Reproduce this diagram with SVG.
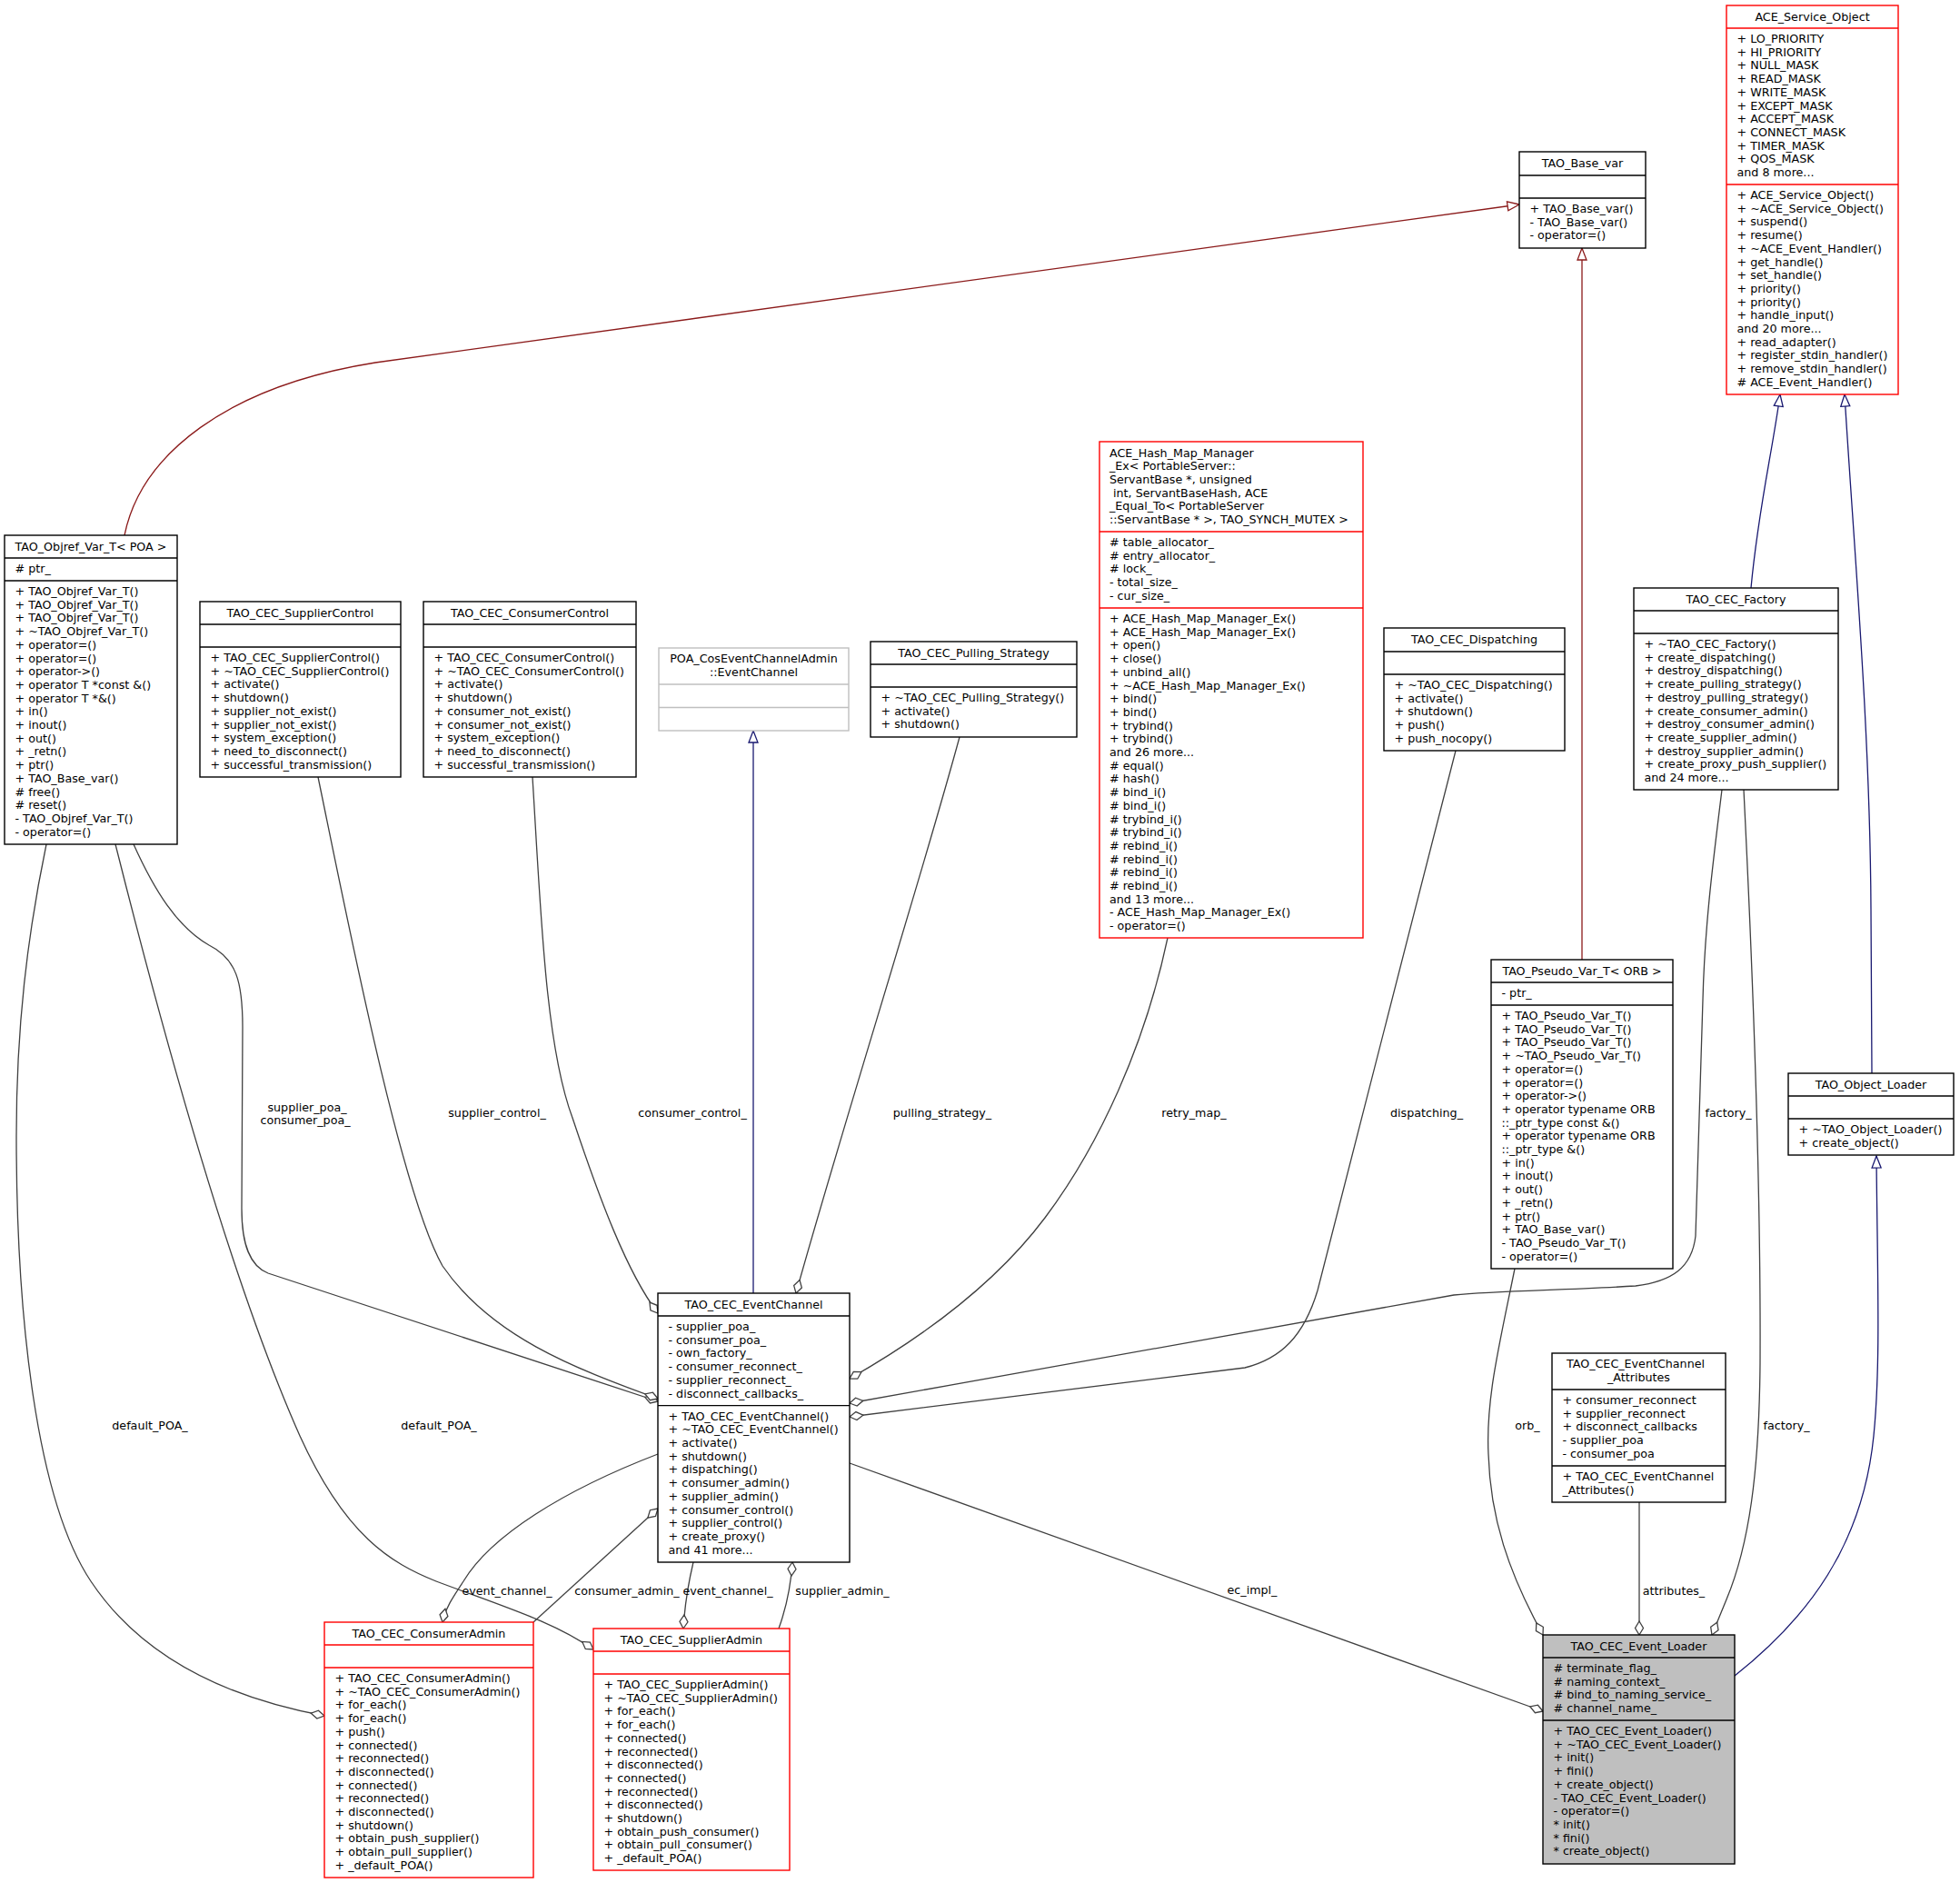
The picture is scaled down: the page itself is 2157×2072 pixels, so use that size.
<svg xmlns="http://www.w3.org/2000/svg" width="2157" height="2072" viewBox="0 0 2157 2072">
<style>
text{font-family:"DejaVu Sans","Liberation Sans",sans-serif;font-size:12.7px;fill:#000}
.c{text-anchor:middle}
.bx{fill:#fff;stroke:#000;stroke-width:1.4}
.rd{fill:#fff;stroke:#ff0000;stroke-width:1.4}
.gy{fill:#fff;stroke:#bfbfbf;stroke-width:1.4}
.gf{fill:#bfbfbf;stroke:#000;stroke-width:1.4}
.sp{stroke:#000;stroke-width:1.4}
.spr{stroke:#ff0000;stroke-width:1.4}
.spg{stroke:#bfbfbf;stroke-width:1.4}
.e{fill:none;stroke:#404040;stroke-width:1.3}
.er{fill:none;stroke:#8b1a1a;stroke-width:1.3}
.eb{fill:none;stroke:#191970;stroke-width:1.3}
</style>
<defs>
<marker id="dia" markerUnits="userSpaceOnUse" viewBox="-16 -6 18 12" refX="0" refY="0" markerWidth="18" markerHeight="12" orient="auto">
<path d="M0,0 L-7.5,-4.5 L-15,0 L-7.5,4.5 Z" fill="#fff" stroke="#404040" stroke-width="1.3"/>
</marker>
<marker id="tr" markerUnits="userSpaceOnUse" viewBox="-15 -7 17 14" refX="0" refY="0" markerWidth="17" markerHeight="14" orient="auto">
<path d="M0,0 L-13,-5 L-13,5 Z" fill="#fff" stroke="#8b1a1a" stroke-width="1.3"/>
</marker>
<marker id="tb" markerUnits="userSpaceOnUse" viewBox="-15 -7 17 14" refX="0" refY="0" markerWidth="17" markerHeight="14" orient="auto">
<path d="M0,0 L-13,-5 L-13,5 Z" fill="#fff" stroke="#191970" stroke-width="1.3"/>
</marker>
</defs>
<rect x="0" y="0" width="2157" height="2072" fill="#fff"/>

<g id="connectors">
<path class="er" d="M137,589 C155,500 250,425 413,399 L1672,225" marker-end="url(#tr)"/>
<path class="er" d="M1741,1056 L1741,273" marker-end="url(#tr)"/>
<path class="eb" d="M1927,647 C1935,560 1950,500 1959,434" marker-end="url(#tb)"/>
<path class="eb" d="M2060,1181 L2059,1000 C2058,800 2040,600 2030,434" marker-end="url(#tb)"/>
<path class="eb" d="M1909,1844 C1990,1780 2050,1700 2062,1580 C2070,1500 2066,1400 2065,1272" marker-end="url(#tb)"/>
<path class="eb" d="M829,1423 L829,804" marker-end="url(#tb)"/>

<path class="e" d="M147,929 C170,980 195,1020 230,1040 C260,1055 267,1080 267,1130 L266,1330 C266,1370 275,1393 295,1401 L724,1542" marker-end="url(#dia)"/>
<path class="e" d="M350,855 C380,1000 440,1310 487,1393 C540,1470 630,1505 724,1539" marker-end="url(#dia)"/>
<path class="e" d="M586,855 C595,1000 600,1150 630,1230 C660,1320 690,1400 724,1445" marker-end="url(#dia)"/>
<path class="e" d="M1056,811 C1010,980 930,1230 876,1423" marker-end="url(#dia)"/>
<path class="e" d="M1285,1032 C1260,1150 1210,1260 1150,1340 C1090,1420 1000,1480 935,1517" marker-end="url(#dia)"/>
<path class="e" d="M1602,826 L1450,1420 C1435,1470 1410,1495 1370,1505 L935,1559" marker-end="url(#dia)"/>
<path class="e" d="M1895,869 C1885,950 1876,1020 1874,1100 L1866,1360 C1862,1395 1840,1410 1800,1415 C1720,1420 1650,1420 1600,1425 L935,1544" marker-end="url(#dia)"/>
<path class="e" d="M1919,869 C1928,1050 1938,1300 1937,1500 C1936,1620 1925,1700 1900,1760 L1884,1799" marker-end="url(#dia)"/>
<path class="e" d="M1667,1396 C1650,1480 1635,1540 1638,1600 C1640,1670 1660,1730 1698,1799" marker-end="url(#dia)"/>
<path class="e" d="M1804,1653 L1804,1799" marker-end="url(#dia)"/>
<path class="e" d="M935,1610 L1698,1883" marker-end="url(#dia)"/>
<path class="e" d="M51,929 C30,1030 18,1130 18,1250 C18,1450 40,1650 100,1740 C160,1830 260,1870 357,1888" marker-end="url(#dia)"/>
<path class="e" d="M127,929 C170,1100 250,1400 330,1580 C380,1690 430,1720 480,1740 C560,1770 610,1785 653,1815" marker-end="url(#dia)"/>
<path class="e" d="M724,1600 C620,1640 540,1690 510,1740 C498,1758 490,1770 487,1785" marker-end="url(#dia)"/>
<path class="e" d="M587,1785 L724,1660" marker-end="url(#dia)"/>
<path class="e" d="M763,1719 C758,1740 754,1760 752,1792" marker-end="url(#dia)"/>
<path class="e" d="M857,1792 C865,1770 870,1750 872,1719" marker-end="url(#dia)"/>

<text class="c" x="338" y="1223">supplier_poa_</text>
<text class="c" x="336" y="1237">consumer_poa_</text>
<text class="c" x="547" y="1229">supplier_control_</text>
<text class="c" x="762" y="1229">consumer_control_</text>
<text class="c" x="1037" y="1229">pulling_strategy_</text>
<text class="c" x="1314" y="1229">retry_map_</text>
<text class="c" x="1570" y="1229">dispatching_</text>
<text class="c" x="1902" y="1229">factory_</text>
<text class="c" x="1681" y="1573">orb_</text>
<text class="c" x="1966" y="1573">factory_</text>
<text class="c" x="165" y="1573">default_POA_</text>
<text class="c" x="483" y="1573">default_POA_</text>
<text class="c" x="1378" y="1754">ec_impl_</text>
<text class="c" x="1842" y="1755">attributes_</text>
<text class="c" x="558" y="1755">event_channel_</text>
<text class="c" x="690" y="1755">consumer_admin_</text>
<text class="c" x="801" y="1755">event_channel_</text>
<text class="c" x="927" y="1755">supplier_admin_</text>
</g>

<g id="ACE_Service_Object">
<rect class="rd" x="1900" y="6" width="189" height="428"/>
<line class="spr" x1="1900" y1="31" x2="2089" y2="31"/>
<line class="spr" x1="1900" y1="203" x2="2089" y2="203"/>
<text class="c" x="1994.5" y="23">ACE_Service_Object</text>
<text y="47"><tspan x="1911.5">+ LO_PRIORITY</tspan><tspan x="1911.5" dy="14.7">+ HI_PRIORITY</tspan><tspan x="1911.5" dy="14.7">+ NULL_MASK</tspan><tspan x="1911.5" dy="14.7">+ READ_MASK</tspan><tspan x="1911.5" dy="14.7">+ WRITE_MASK</tspan><tspan x="1911.5" dy="14.7">+ EXCEPT_MASK</tspan><tspan x="1911.5" dy="14.7">+ ACCEPT_MASK</tspan><tspan x="1911.5" dy="14.7">+ CONNECT_MASK</tspan><tspan x="1911.5" dy="14.7">+ TIMER_MASK</tspan><tspan x="1911.5" dy="14.7">+ QOS_MASK</tspan><tspan x="1911.5" dy="14.7">and 8 more...</tspan></text>
<text y="219"><tspan x="1911.5">+ ACE_Service_Object()</tspan><tspan x="1911.5" dy="14.7">+ ~ACE_Service_Object()</tspan><tspan x="1911.5" dy="14.7">+ suspend()</tspan><tspan x="1911.5" dy="14.7">+ resume()</tspan><tspan x="1911.5" dy="14.7">+ ~ACE_Event_Handler()</tspan><tspan x="1911.5" dy="14.7">+ get_handle()</tspan><tspan x="1911.5" dy="14.7">+ set_handle()</tspan><tspan x="1911.5" dy="14.7">+ priority()</tspan><tspan x="1911.5" dy="14.7">+ priority()</tspan><tspan x="1911.5" dy="14.7">+ handle_input()</tspan><tspan x="1911.5" dy="14.7">and 20 more...</tspan><tspan x="1911.5" dy="14.7">+ read_adapter()</tspan><tspan x="1911.5" dy="14.7">+ register_stdin_handler()</tspan><tspan x="1911.5" dy="14.7">+ remove_stdin_handler()</tspan><tspan x="1911.5" dy="14.7"># ACE_Event_Handler()</tspan></text>
</g>

<g id="TAO_Base_var">
<rect class="bx" x="1672" y="167" width="139" height="106"/>
<line class="sp" x1="1672" y1="193" x2="1811" y2="193"/>
<line class="sp" x1="1672" y1="218" x2="1811" y2="218"/>
<text class="c" x="1741.5" y="184">TAO_Base_var</text>
<text y="234"><tspan x="1683.5">+ TAO_Base_var()</tspan><tspan x="1683.5" dy="14.7">- TAO_Base_var()</tspan><tspan x="1683.5" dy="14.7">- operator=()</tspan></text>
</g>

<g id="TAO_Objref_Var_T">
<rect class="bx" x="5" y="589" width="190" height="340"/>
<line class="sp" x1="5" y1="614" x2="195" y2="614"/>
<line class="sp" x1="5" y1="639" x2="195" y2="639"/>
<text class="c" x="100" y="606">TAO_Objref_Var_T&lt; POA &gt;</text>
<text x="16.5" y="630"># ptr_</text>
<text y="655"><tspan x="16.5">+ TAO_Objref_Var_T()</tspan><tspan x="16.5" dy="14.7">+ TAO_Objref_Var_T()</tspan><tspan x="16.5" dy="14.7">+ TAO_Objref_Var_T()</tspan><tspan x="16.5" dy="14.7">+ ~TAO_Objref_Var_T()</tspan><tspan x="16.5" dy="14.7">+ operator=()</tspan><tspan x="16.5" dy="14.7">+ operator=()</tspan><tspan x="16.5" dy="14.7">+ operator-&gt;()</tspan><tspan x="16.5" dy="14.7">+ operator T *const &amp;()</tspan><tspan x="16.5" dy="14.7">+ operator T *&amp;()</tspan><tspan x="16.5" dy="14.7">+ in()</tspan><tspan x="16.5" dy="14.7">+ inout()</tspan><tspan x="16.5" dy="14.7">+ out()</tspan><tspan x="16.5" dy="14.7">+ _retn()</tspan><tspan x="16.5" dy="14.7">+ ptr()</tspan><tspan x="16.5" dy="14.7">+ TAO_Base_var()</tspan><tspan x="16.5" dy="14.7"># free()</tspan><tspan x="16.5" dy="14.7"># reset()</tspan><tspan x="16.5" dy="14.7">- TAO_Objref_Var_T()</tspan><tspan x="16.5" dy="14.7">- operator=()</tspan></text>
</g>

<g id="TAO_CEC_SupplierControl">
<rect class="bx" x="220" y="662" width="221" height="193"/>
<line class="sp" x1="220" y1="687" x2="441" y2="687"/>
<line class="sp" x1="220" y1="712" x2="441" y2="712"/>
<text class="c" x="330.5" y="679">TAO_CEC_SupplierControl</text>
<text y="728"><tspan x="231.5">+ TAO_CEC_SupplierControl()</tspan><tspan x="231.5" dy="14.7">+ ~TAO_CEC_SupplierControl()</tspan><tspan x="231.5" dy="14.7">+ activate()</tspan><tspan x="231.5" dy="14.7">+ shutdown()</tspan><tspan x="231.5" dy="14.7">+ supplier_not_exist()</tspan><tspan x="231.5" dy="14.7">+ supplier_not_exist()</tspan><tspan x="231.5" dy="14.7">+ system_exception()</tspan><tspan x="231.5" dy="14.7">+ need_to_disconnect()</tspan><tspan x="231.5" dy="14.7">+ successful_transmission()</tspan></text>
</g>

<g id="TAO_CEC_ConsumerControl">
<rect class="bx" x="466" y="662" width="234" height="193"/>
<line class="sp" x1="466" y1="687" x2="700" y2="687"/>
<line class="sp" x1="466" y1="712" x2="700" y2="712"/>
<text class="c" x="583" y="679">TAO_CEC_ConsumerControl</text>
<text y="728"><tspan x="477.5">+ TAO_CEC_ConsumerControl()</tspan><tspan x="477.5" dy="14.7">+ ~TAO_CEC_ConsumerControl()</tspan><tspan x="477.5" dy="14.7">+ activate()</tspan><tspan x="477.5" dy="14.7">+ shutdown()</tspan><tspan x="477.5" dy="14.7">+ consumer_not_exist()</tspan><tspan x="477.5" dy="14.7">+ consumer_not_exist()</tspan><tspan x="477.5" dy="14.7">+ system_exception()</tspan><tspan x="477.5" dy="14.7">+ need_to_disconnect()</tspan><tspan x="477.5" dy="14.7">+ successful_transmission()</tspan></text>
</g>

<g id="POA_CosEventChannelAdmin_EventChannel">
<rect class="gy" x="725" y="713" width="209" height="91"/>
<line class="spg" x1="725" y1="753" x2="934" y2="753"/>
<line class="spg" x1="725" y1="778.5" x2="934" y2="778.5"/>
<text class="c" x="829.5" y="729">POA_CosEventChannelAdmin</text>
<text class="c" x="829.5" y="743.7">::EventChannel</text>
</g>

<g id="TAO_CEC_Pulling_Strategy">
<rect class="bx" x="958" y="706" width="227" height="105"/>
<line class="sp" x1="958" y1="731" x2="1185" y2="731"/>
<line class="sp" x1="958" y1="756" x2="1185" y2="756"/>
<text class="c" x="1071.5" y="723">TAO_CEC_Pulling_Strategy</text>
<text y="772"><tspan x="969.5">+ ~TAO_CEC_Pulling_Strategy()</tspan><tspan x="969.5" dy="14.7">+ activate()</tspan><tspan x="969.5" dy="14.7">+ shutdown()</tspan></text>
</g>

<g id="ACE_Hash_Map_Manager_Ex">
<rect class="rd" x="1210" y="486" width="290" height="546"/>
<line class="spr" x1="1210" y1="585" x2="1500" y2="585"/>
<line class="spr" x1="1210" y1="669" x2="1500" y2="669"/>
<text y="502.5"><tspan x="1221">ACE_Hash_Map_Manager</tspan><tspan x="1221" dy="14.7">_Ex&lt; PortableServer::</tspan><tspan x="1221" dy="14.7">ServantBase *, unsigned</tspan><tspan x="1221" dy="14.7">&#160;int, ServantBaseHash, ACE</tspan><tspan x="1221" dy="14.7">_Equal_To&lt; PortableServer</tspan><tspan x="1221" dy="14.7">::ServantBase * &gt;, TAO_SYNCH_MUTEX &gt;</tspan></text>
<text y="601"><tspan x="1221"># table_allocator_</tspan><tspan x="1221" dy="14.7"># entry_allocator_</tspan><tspan x="1221" dy="14.7"># lock_</tspan><tspan x="1221" dy="14.7">- total_size_</tspan><tspan x="1221" dy="14.7">- cur_size_</tspan></text>
<text y="685"><tspan x="1221">+ ACE_Hash_Map_Manager_Ex()</tspan><tspan x="1221" dy="14.7">+ ACE_Hash_Map_Manager_Ex()</tspan><tspan x="1221" dy="14.7">+ open()</tspan><tspan x="1221" dy="14.7">+ close()</tspan><tspan x="1221" dy="14.7">+ unbind_all()</tspan><tspan x="1221" dy="14.7">+ ~ACE_Hash_Map_Manager_Ex()</tspan><tspan x="1221" dy="14.7">+ bind()</tspan><tspan x="1221" dy="14.7">+ bind()</tspan><tspan x="1221" dy="14.7">+ trybind()</tspan><tspan x="1221" dy="14.7">+ trybind()</tspan><tspan x="1221" dy="14.7">and 26 more...</tspan><tspan x="1221" dy="14.7"># equal()</tspan><tspan x="1221" dy="14.7"># hash()</tspan><tspan x="1221" dy="14.7"># bind_i()</tspan><tspan x="1221" dy="14.7"># bind_i()</tspan><tspan x="1221" dy="14.7"># trybind_i()</tspan><tspan x="1221" dy="14.7"># trybind_i()</tspan><tspan x="1221" dy="14.7"># rebind_i()</tspan><tspan x="1221" dy="14.7"># rebind_i()</tspan><tspan x="1221" dy="14.7"># rebind_i()</tspan><tspan x="1221" dy="14.7"># rebind_i()</tspan><tspan x="1221" dy="14.7">and 13 more...</tspan><tspan x="1221" dy="14.7">- ACE_Hash_Map_Manager_Ex()</tspan><tspan x="1221" dy="14.7">- operator=()</tspan></text>
</g>

<g id="TAO_CEC_Dispatching">
<rect class="bx" x="1523" y="691" width="199" height="135"/>
<line class="sp" x1="1523" y1="717" x2="1722" y2="717"/>
<line class="sp" x1="1523" y1="742" x2="1722" y2="742"/>
<text class="c" x="1622.5" y="708">TAO_CEC_Dispatching</text>
<text y="758"><tspan x="1534.5">+ ~TAO_CEC_Dispatching()</tspan><tspan x="1534.5" dy="14.7">+ activate()</tspan><tspan x="1534.5" dy="14.7">+ shutdown()</tspan><tspan x="1534.5" dy="14.7">+ push()</tspan><tspan x="1534.5" dy="14.7">+ push_nocopy()</tspan></text>
</g>

<g id="TAO_CEC_Factory">
<rect class="bx" x="1798" y="647" width="225" height="222"/>
<line class="sp" x1="1798" y1="672" x2="2023" y2="672"/>
<line class="sp" x1="1798" y1="697" x2="2023" y2="697"/>
<text class="c" x="1910.5" y="664">TAO_CEC_Factory</text>
<text y="713"><tspan x="1809.5">+ ~TAO_CEC_Factory()</tspan><tspan x="1809.5" dy="14.7">+ create_dispatching()</tspan><tspan x="1809.5" dy="14.7">+ destroy_dispatching()</tspan><tspan x="1809.5" dy="14.7">+ create_pulling_strategy()</tspan><tspan x="1809.5" dy="14.7">+ destroy_pulling_strategy()</tspan><tspan x="1809.5" dy="14.7">+ create_consumer_admin()</tspan><tspan x="1809.5" dy="14.7">+ destroy_consumer_admin()</tspan><tspan x="1809.5" dy="14.7">+ create_supplier_admin()</tspan><tspan x="1809.5" dy="14.7">+ destroy_supplier_admin()</tspan><tspan x="1809.5" dy="14.7">+ create_proxy_push_supplier()</tspan><tspan x="1809.5" dy="14.7">and 24 more...</tspan></text>
</g>

<g id="TAO_Pseudo_Var_T">
<rect class="bx" x="1641" y="1056" width="200" height="340"/>
<line class="sp" x1="1641" y1="1081" x2="1841" y2="1081"/>
<line class="sp" x1="1641" y1="1106" x2="1841" y2="1106"/>
<text class="c" x="1741" y="1073">TAO_Pseudo_Var_T&lt; ORB &gt;</text>
<text x="1652.5" y="1097">- ptr_</text>
<text y="1122"><tspan x="1652.5">+ TAO_Pseudo_Var_T()</tspan><tspan x="1652.5" dy="14.7">+ TAO_Pseudo_Var_T()</tspan><tspan x="1652.5" dy="14.7">+ TAO_Pseudo_Var_T()</tspan><tspan x="1652.5" dy="14.7">+ ~TAO_Pseudo_Var_T()</tspan><tspan x="1652.5" dy="14.7">+ operator=()</tspan><tspan x="1652.5" dy="14.7">+ operator=()</tspan><tspan x="1652.5" dy="14.7">+ operator-&gt;()</tspan><tspan x="1652.5" dy="14.7">+ operator typename ORB</tspan><tspan x="1652.5" dy="14.7">::_ptr_type const &amp;()</tspan><tspan x="1652.5" dy="14.7">+ operator typename ORB</tspan><tspan x="1652.5" dy="14.7">::_ptr_type &amp;()</tspan><tspan x="1652.5" dy="14.7">+ in()</tspan><tspan x="1652.5" dy="14.7">+ inout()</tspan><tspan x="1652.5" dy="14.7">+ out()</tspan><tspan x="1652.5" dy="14.7">+ _retn()</tspan><tspan x="1652.5" dy="14.7">+ ptr()</tspan><tspan x="1652.5" dy="14.7">+ TAO_Base_var()</tspan><tspan x="1652.5" dy="14.7">- TAO_Pseudo_Var_T()</tspan><tspan x="1652.5" dy="14.7">- operator=()</tspan></text>
</g>

<g id="TAO_Object_Loader">
<rect class="bx" x="1968" y="1181" width="182" height="90"/>
<line class="sp" x1="1968" y1="1206" x2="2150" y2="1206"/>
<line class="sp" x1="1968" y1="1231" x2="2150" y2="1231"/>
<text class="c" x="2059" y="1198">TAO_Object_Loader</text>
<text y="1247"><tspan x="1979.5">+ ~TAO_Object_Loader()</tspan><tspan x="1979.5" dy="14.7">+ create_object()</tspan></text>
</g>

<g id="TAO_CEC_EventChannel_Attributes">
<rect class="bx" x="1708" y="1489" width="191" height="164"/>
<line class="sp" x1="1708" y1="1529" x2="1899" y2="1529"/>
<line class="sp" x1="1708" y1="1613" x2="1899" y2="1613"/>
<text class="c" x="1800" y="1505">TAO_CEC_EventChannel</text>
<text class="c" x="1803.5" y="1519.7">_Attributes</text>
<text y="1545"><tspan x="1719.5">+ consumer_reconnect</tspan><tspan x="1719.5" dy="14.7">+ supplier_reconnect</tspan><tspan x="1719.5" dy="14.7">+ disconnect_callbacks</tspan><tspan x="1719.5" dy="14.7">- supplier_poa</tspan><tspan x="1719.5" dy="14.7">- consumer_poa</tspan></text>
<text y="1629"><tspan x="1719.5">+ TAO_CEC_EventChannel</tspan><tspan x="1719.5" dy="14.7">_Attributes()</tspan></text>
</g>

<g id="TAO_CEC_EventChannel">
<rect class="bx" x="724" y="1423" width="211" height="296"/>
<line class="sp" x1="724" y1="1448" x2="935" y2="1448"/>
<line class="sp" x1="724" y1="1546.6" x2="935" y2="1546.6"/>
<text class="c" x="829.5" y="1440">TAO_CEC_EventChannel</text>
<text y="1464"><tspan x="735.5">- supplier_poa_</tspan><tspan x="735.5" dy="14.7">- consumer_poa_</tspan><tspan x="735.5" dy="14.7">- own_factory_</tspan><tspan x="735.5" dy="14.7">- consumer_reconnect_</tspan><tspan x="735.5" dy="14.7">- supplier_reconnect_</tspan><tspan x="735.5" dy="14.7">- disconnect_callbacks_</tspan></text>
<text y="1562.6"><tspan x="735.5">+ TAO_CEC_EventChannel()</tspan><tspan x="735.5" dy="14.7">+ ~TAO_CEC_EventChannel()</tspan><tspan x="735.5" dy="14.7">+ activate()</tspan><tspan x="735.5" dy="14.7">+ shutdown()</tspan><tspan x="735.5" dy="14.7">+ dispatching()</tspan><tspan x="735.5" dy="14.7">+ consumer_admin()</tspan><tspan x="735.5" dy="14.7">+ supplier_admin()</tspan><tspan x="735.5" dy="14.7">+ consumer_control()</tspan><tspan x="735.5" dy="14.7">+ supplier_control()</tspan><tspan x="735.5" dy="14.7">+ create_proxy()</tspan><tspan x="735.5" dy="14.7">and 41 more...</tspan></text>
</g>

<g id="TAO_CEC_ConsumerAdmin">
<rect class="rd" x="357" y="1785" width="230" height="281"/>
<line class="spr" x1="357" y1="1810" x2="587" y2="1810"/>
<line class="spr" x1="357" y1="1835" x2="587" y2="1835"/>
<text class="c" x="472" y="1802">TAO_CEC_ConsumerAdmin</text>
<text y="1851"><tspan x="368.5">+ TAO_CEC_ConsumerAdmin()</tspan><tspan x="368.5" dy="14.7">+ ~TAO_CEC_ConsumerAdmin()</tspan><tspan x="368.5" dy="14.7">+ for_each()</tspan><tspan x="368.5" dy="14.7">+ for_each()</tspan><tspan x="368.5" dy="14.7">+ push()</tspan><tspan x="368.5" dy="14.7">+ connected()</tspan><tspan x="368.5" dy="14.7">+ reconnected()</tspan><tspan x="368.5" dy="14.7">+ disconnected()</tspan><tspan x="368.5" dy="14.7">+ connected()</tspan><tspan x="368.5" dy="14.7">+ reconnected()</tspan><tspan x="368.5" dy="14.7">+ disconnected()</tspan><tspan x="368.5" dy="14.7">+ shutdown()</tspan><tspan x="368.5" dy="14.7">+ obtain_push_supplier()</tspan><tspan x="368.5" dy="14.7">+ obtain_pull_supplier()</tspan><tspan x="368.5" dy="14.7">+ _default_POA()</tspan></text>
</g>

<g id="TAO_CEC_SupplierAdmin">
<rect class="rd" x="653" y="1792" width="216" height="266"/>
<line class="spr" x1="653" y1="1817" x2="869" y2="1817"/>
<line class="spr" x1="653" y1="1842" x2="869" y2="1842"/>
<text class="c" x="761" y="1809">TAO_CEC_SupplierAdmin</text>
<text y="1858"><tspan x="664.5">+ TAO_CEC_SupplierAdmin()</tspan><tspan x="664.5" dy="14.7">+ ~TAO_CEC_SupplierAdmin()</tspan><tspan x="664.5" dy="14.7">+ for_each()</tspan><tspan x="664.5" dy="14.7">+ for_each()</tspan><tspan x="664.5" dy="14.7">+ connected()</tspan><tspan x="664.5" dy="14.7">+ reconnected()</tspan><tspan x="664.5" dy="14.7">+ disconnected()</tspan><tspan x="664.5" dy="14.7">+ connected()</tspan><tspan x="664.5" dy="14.7">+ reconnected()</tspan><tspan x="664.5" dy="14.7">+ disconnected()</tspan><tspan x="664.5" dy="14.7">+ shutdown()</tspan><tspan x="664.5" dy="14.7">+ obtain_push_consumer()</tspan><tspan x="664.5" dy="14.7">+ obtain_pull_consumer()</tspan><tspan x="664.5" dy="14.7">+ _default_POA()</tspan></text>
</g>

<g id="TAO_CEC_Event_Loader">
<rect class="gf" x="1698" y="1799" width="211" height="252"/>
<line class="sp" x1="1698" y1="1824" x2="1909" y2="1824"/>
<line class="sp" x1="1698" y1="1893" x2="1909" y2="1893"/>
<text class="c" x="1803.5" y="1816">TAO_CEC_Event_Loader</text>
<text y="1840"><tspan x="1709.5"># terminate_flag_</tspan><tspan x="1709.5" dy="14.7"># naming_context_</tspan><tspan x="1709.5" dy="14.7"># bind_to_naming_service_</tspan><tspan x="1709.5" dy="14.7"># channel_name_</tspan></text>
<text y="1909"><tspan x="1709.5">+ TAO_CEC_Event_Loader()</tspan><tspan x="1709.5" dy="14.7">+ ~TAO_CEC_Event_Loader()</tspan><tspan x="1709.5" dy="14.7">+ init()</tspan><tspan x="1709.5" dy="14.7">+ fini()</tspan><tspan x="1709.5" dy="14.7">+ create_object()</tspan><tspan x="1709.5" dy="14.7">- TAO_CEC_Event_Loader()</tspan><tspan x="1709.5" dy="14.7">- operator=()</tspan><tspan x="1709.5" dy="14.7">* init()</tspan><tspan x="1709.5" dy="14.7">* fini()</tspan><tspan x="1709.5" dy="14.7">* create_object()</tspan></text>
</g>
</svg>
